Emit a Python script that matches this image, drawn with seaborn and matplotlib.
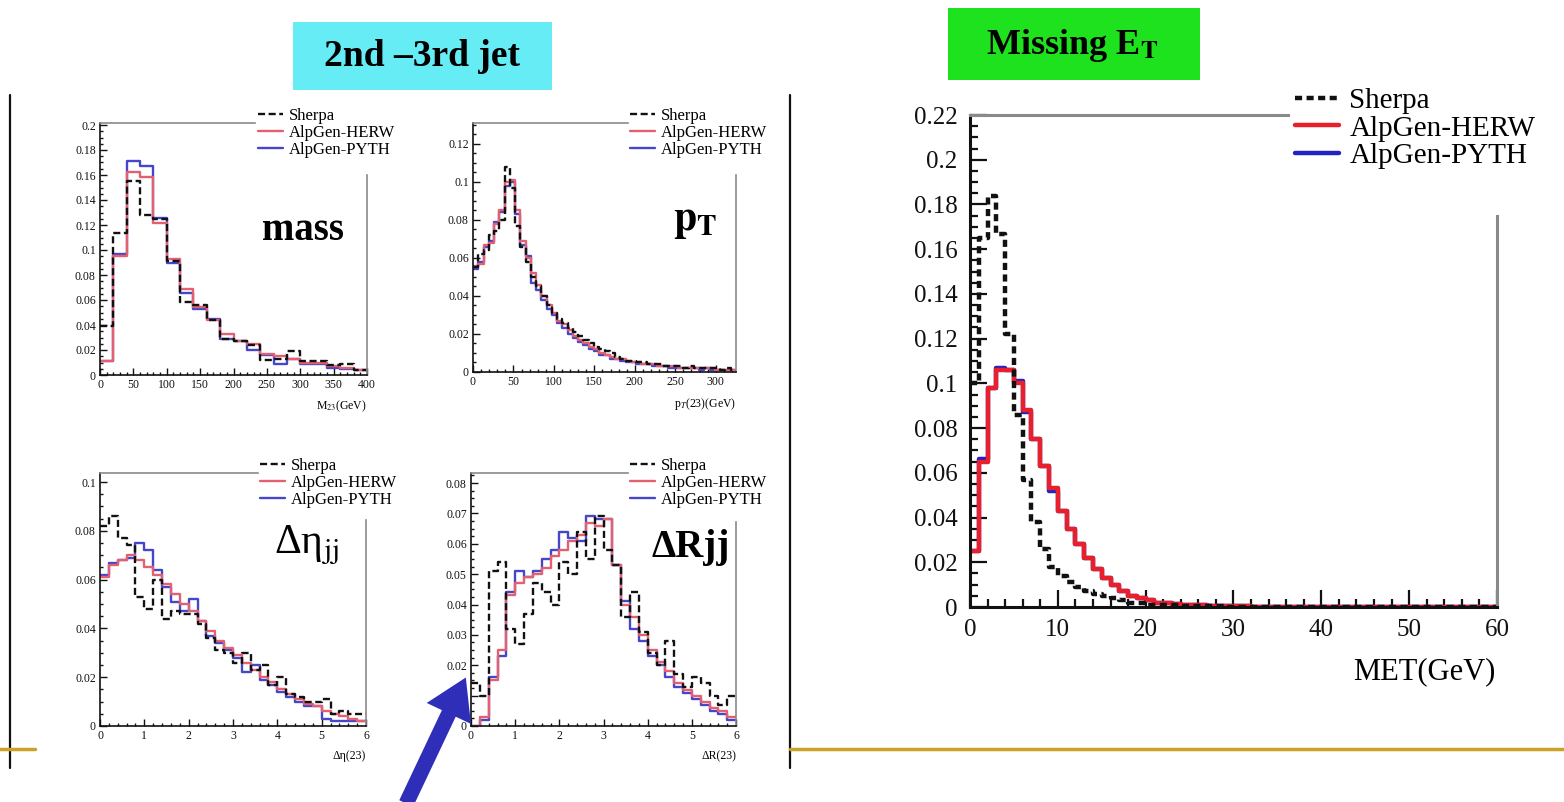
import numpy as np
import pandas as pd
import matplotlib
matplotlib.use("Agg")
import matplotlib.pyplot as plt
from matplotlib.lines import Line2D
from matplotlib.patches import FancyArrowPatch, Rectangle
from matplotlib.ticker import MultipleLocator, FuncFormatter
import seaborn as sns

# ---------------- data ----------------
series_names = ["Sherpa", "AlpGen-HERW", "AlpGen-PYTH"]

# dijet mass (20 GeV bins, 0-400)
mass_edges = np.arange(0, 420, 20)
mass_sherpa = [0.039, 0.114, 0.155, 0.128, 0.125, 0.091, 0.058, 0.056, 0.044, 0.029,
               0.027, 0.024, 0.012, 0.013, 0.019, 0.011, 0.011, 0.008, 0.009, 0.004]
mass_herw = [0.011, 0.095, 0.162, 0.158, 0.122, 0.093, 0.069, 0.054, 0.044, 0.033,
             0.027, 0.025, 0.017, 0.015, 0.013, 0.010, 0.010, 0.007, 0.006, 0.004]
mass_pyth = [0.011, 0.097, 0.171, 0.167, 0.126, 0.090, 0.066, 0.053, 0.045, 0.029,
             0.027, 0.020, 0.016, 0.009, 0.013, 0.009, 0.009, 0.006, 0.005, 0.004]

# dijet pT (6.5 GeV bins, 0-325)
pt_edges = np.linspace(0, 325, 51)
pt_sherpa = [0.055, 0.062, 0.064, 0.072, 0.074, 0.080, 0.108, 0.097, 0.077, 0.066,
             0.058, 0.050, 0.045, 0.040, 0.035, 0.031, 0.028, 0.026, 0.023, 0.021,
             0.019, 0.017, 0.015, 0.013, 0.012, 0.011, 0.010, 0.008, 0.007, 0.006,
             0.006, 0.005, 0.005, 0.004, 0.004, 0.004, 0.003, 0.003, 0.003, 0.003,
             0.002, 0.003, 0.002, 0.002, 0.002, 0.002, 0.002, 0.001, 0.002, 0.001]
pt_herw = [0.056, 0.057, 0.067, 0.068, 0.078, 0.085, 0.100, 0.101, 0.085, 0.069,
           0.060, 0.052, 0.046, 0.040, 0.035, 0.031, 0.027, 0.025, 0.022, 0.019,
           0.017, 0.015, 0.013, 0.012, 0.010, 0.009, 0.008, 0.007, 0.007, 0.006,
           0.005, 0.005, 0.004, 0.004, 0.004, 0.003, 0.003, 0.003, 0.003, 0.002,
           0.002, 0.002, 0.002, 0.002, 0.002, 0.002, 0.001, 0.001, 0.001, 0.001]
pt_pyth = [0.054, 0.058, 0.066, 0.069, 0.079, 0.084, 0.098, 0.100, 0.083, 0.067,
           0.061, 0.047, 0.043, 0.038, 0.033, 0.030, 0.026, 0.023, 0.020, 0.018,
           0.016, 0.014, 0.012, 0.011, 0.009, 0.009, 0.007, 0.007, 0.006, 0.005,
           0.005, 0.004, 0.004, 0.004, 0.003, 0.003, 0.003, 0.002, 0.002, 0.002,
           0.002, 0.002, 0.002, 0.001, 0.002, 0.001, 0.001, 0.001, 0.001, 0.001]

# delta eta (0.2 bins, 0-6)
deta_edges = np.linspace(0, 6, 31)
deta_sherpa = [0.082, 0.086, 0.077, 0.074, 0.053, 0.048, 0.060, 0.044, 0.047, 0.046,
               0.046, 0.042, 0.036, 0.031, 0.030, 0.026, 0.030, 0.023, 0.025, 0.017,
               0.020, 0.013, 0.012, 0.010, 0.010, 0.011, 0.005, 0.006, 0.005, 0.005]
deta_herw = [0.061, 0.066, 0.068, 0.070, 0.068, 0.065, 0.062, 0.058, 0.054, 0.050,
             0.047, 0.043, 0.039, 0.035, 0.032, 0.029, 0.026, 0.023, 0.020, 0.018,
             0.015, 0.013, 0.011, 0.009, 0.008, 0.006, 0.005, 0.004, 0.003, 0.002]
deta_pyth = [0.062, 0.067, 0.068, 0.069, 0.075, 0.072, 0.064, 0.057, 0.051, 0.047,
             0.052, 0.043, 0.037, 0.034, 0.031, 0.028, 0.022, 0.025, 0.019, 0.017,
             0.014, 0.012, 0.010, 0.008, 0.008, 0.003, 0.002, 0.002, 0.002, 0.002]

# delta R (0.2 bins, 0-6)
dr_edges = np.linspace(0, 6, 31)
dr_sherpa = [0.014, 0.010, 0.051, 0.054, 0.032, 0.027, 0.037, 0.047, 0.044, 0.040,
             0.054, 0.050, 0.064, 0.055, 0.069, 0.058, 0.053, 0.036, 0.044, 0.031,
             0.024, 0.020, 0.028, 0.017, 0.013, 0.016, 0.014, 0.010, 0.007, 0.010]
dr_herw = [0.000, 0.003, 0.015, 0.025, 0.043, 0.047, 0.049, 0.050, 0.052, 0.056,
           0.058, 0.061, 0.063, 0.067, 0.066, 0.068, 0.053, 0.040, 0.036, 0.030,
           0.025, 0.021, 0.018, 0.014, 0.012, 0.010, 0.008, 0.006, 0.005, 0.003]
dr_pyth = [0.000, 0.002, 0.016, 0.023, 0.044, 0.051, 0.049, 0.051, 0.055, 0.058,
           0.064, 0.062, 0.061, 0.069, 0.068, 0.068, 0.053, 0.041, 0.032, 0.028,
           0.023, 0.020, 0.016, 0.013, 0.011, 0.009, 0.007, 0.005, 0.004, 0.002]

# missing ET (1 GeV bins, 0-60)
met_edges = np.arange(0, 61, 1)
met_sherpa = [0.100, 0.165, 0.184, 0.167, 0.122, 0.086, 0.057, 0.038, 0.026, 0.018,
              0.014, 0.011, 0.009, 0.007, 0.006, 0.005, 0.004, 0.003, 0.002, 0.002,
              0.001, 0.001, 0.001, 0.0008, 0.0006, 0.0005, 0.0004, 0.0003, 0.0003, 0.0002,
              0.0002, 0.0002, 0.0001, 0.0001, 0.0001, 0.0001, 0.0001, 0.0, 0.0, 0.0,
              0.0, 0.0, 0.0, 0.0, 0.0, 0.0, 0.0, 0.0, 0.0, 0.0,
              0.0, 0.0, 0.0, 0.0, 0.0, 0.0, 0.0, 0.0, 0.0, 0.0]
met_herw = [0.025, 0.065, 0.098, 0.106, 0.106, 0.100, 0.088, 0.075, 0.063, 0.053,
            0.043, 0.035, 0.028, 0.022, 0.017, 0.013, 0.010, 0.007, 0.005, 0.004,
            0.003, 0.002, 0.002, 0.0015, 0.001, 0.001, 0.0008, 0.0006, 0.0005, 0.0004,
            0.0003, 0.0003, 0.0002, 0.0002, 0.0002, 0.0001, 0.0001, 0.0001, 0.0001, 0.0001,
            0.0001, 0.0001, 0.0001, 0.0, 0.0, 0.0, 0.0, 0.0, 0.0, 0.0,
            0.0, 0.0, 0.0, 0.0, 0.0, 0.0, 0.0, 0.0, 0.0, 0.0]
met_pyth = [0.025, 0.066, 0.098, 0.107, 0.106, 0.101, 0.087, 0.075, 0.063, 0.052,
            0.043, 0.035, 0.028, 0.022, 0.017, 0.013, 0.010, 0.007, 0.005, 0.004,
            0.003, 0.002, 0.002, 0.0015, 0.001, 0.001, 0.0008, 0.0006, 0.0005, 0.0004,
            0.0003, 0.0003, 0.0002, 0.0002, 0.0002, 0.0001, 0.0001, 0.0001, 0.0001, 0.0001,
            0.0001, 0.0001, 0.0001, 0.0, 0.0, 0.0, 0.0, 0.0, 0.0, 0.0,
            0.0, 0.0, 0.0, 0.0, 0.0, 0.0, 0.0, 0.0, 0.0, 0.0]

# ---------------- style ----------------
sns.set_style("ticks")
plt.rcParams['font.family'] = ['Liberation Serif', 'DejaVu Serif']
plt.rcParams['mathtext.fontset'] = 'stix'
plt.rcParams['text.color'] = 'black'
plt.rcParams['axes.labelcolor'] = 'black'

W, H = 1564, 802
fig = plt.figure(figsize=(W / 100, H / 100), dpi=100)
fig.patch.set_facecolor("white")


def rect(x0, y0, x1, y1):
    return [x0 / W, 1 - y1 / H, (x1 - x0) / W, (y1 - y0) / H]


def fx(x):
    return x / W


def fy(y):
    return 1 - y / H


fmt = FuncFormatter(lambda v, p: "%g" % round(v, 4))


def step_hist(ax, edges, values, **kws):
    edges = [float(e) for e in edges]
    centers = [0.5 * (a + b) for a, b in zip(edges[:-1], edges[1:])]
    df = pd.DataFrame({"x": centers, "w": [float(v) for v in values]})
    sns.histplot(data=df, x="x", weights="w", bins=edges, element="step",
                 fill=False, ax=ax, **kws)


def panel(box, edges, vals, xlim, ylim, xmaj, xmin, ymaj, ymin, colors, lw,
          dash, tick_fs, tick_len, leg_pos, leg_fs, top_end, right_end, big=False):
    ax = fig.add_axes(rect(*box))
    sherpa, herw, pyth = vals
    step_hist(ax, edges, pyth, color=colors[2], linewidth=lw)
    step_hist(ax, edges, herw, color=colors[1], linewidth=lw)
    step_hist(ax, edges, sherpa, color=colors[0], linewidth=lw, linestyle=(0, dash))
    ax.set_xlabel("")
    ax.set_ylabel("")
    ax.set_xlim(*xlim)
    ax.set_ylim(*ylim)
    ax.xaxis.set_major_locator(MultipleLocator(xmaj))
    ax.xaxis.set_minor_locator(MultipleLocator(xmin))
    ax.yaxis.set_major_locator(MultipleLocator(ymaj))
    ax.yaxis.set_minor_locator(MultipleLocator(ymin))
    ax.xaxis.set_major_formatter(fmt)
    ax.yaxis.set_major_formatter(fmt)
    ax.tick_params(which="both", direction="in", top=False, right=False,
                   colors="#111111", labelcolor="#111111", labelsize=tick_fs,
                   width=1.0 if not big else 1.6)
    ax.tick_params(which="major", length=tick_len, pad=3 if not big else 9)
    ax.tick_params(which="minor", length=tick_len * 0.5)
    for s in ["left", "bottom"]:
        ax.spines[s].set_color("#111111")
        ax.spines[s].set_linewidth(1.2 if not big else 2.2)
    for s in ["top", "right"]:
        ax.spines[s].set_visible(True)
        ax.spines[s].set_color("#8a8a8a")
        ax.spines[s].set_linewidth(1.2 if not big else 2.2)
    ax.spines["top"].set_bounds(xlim[0], top_end)
    ax.spines["right"].set_bounds(ylim[0], right_end)
    handles = [Line2D([], [], color=colors[0], lw=lw, linestyle=(0, dash)),
               Line2D([], [], color=colors[1], lw=lw),
               Line2D([], [], color=colors[2], lw=lw)]
    leg = ax.legend(handles, series_names, loc="upper left",
                    bbox_to_anchor=(fx(leg_pos[0]), fy(leg_pos[1])),
                    bbox_transform=fig.transFigure, frameon=False,
                    fontsize=leg_fs, handlelength=1.5,
                    handletextpad=0.35, borderpad=0.25, labelspacing=0.05,
                    borderaxespad=0.0)
    leg.set_zorder(20)
    return ax


small_cols = ["#111111", "#e2606f", "#4646c8"]
big_cols = ["#111111", "#e8202c", "#2222c4"]

panel((100, 123, 367, 375), mass_edges, (mass_sherpa, mass_herw, mass_pyth),
      (0, 400), (0, 0.2016), 50, 10, 0.02, 0.005, small_cols, 1.7, (3, 1.5),
      8.5, 5, (254, 104), 12, 232, 0.160)
panel((473, 123, 736, 372), pt_edges, (pt_sherpa, pt_herw, pt_pyth),
      (0, 325), (0, 0.131), 50, 10, 0.02, 0.005, small_cols, 1.7, (3, 1.5),
      8.5, 5, (626, 104), 12, 191, 0.1036)
panel((100, 473, 366, 726), deta_edges, (deta_sherpa, deta_herw, deta_pyth),
      (0, 6), (0, 0.1037), 1, 0.2, 0.02, 0.005, small_cols, 1.7, (3, 1.5),
      8.5, 5, (256, 454), 12, 3.56, 0.0844)
panel((471, 473, 736, 726), dr_edges, (dr_sherpa, dr_herw, dr_pyth),
      (0, 6), (0, 0.0833), 1, 0.2, 0.01, 0.0025, small_cols, 1.7, (3, 1.5),
      8.5, 5, (626, 454), 12, 3.55, 0.0672)
panel((970, 115, 1497, 607), met_edges, (met_sherpa, met_herw, met_pyth),
      (0, 60), (0, 0.22), 10, 2, 0.02, 0.005, big_cols, 3.2, (1.6, 1.0),
      18, 12, (1288, 80), 21, 36.2, 0.175, big=True)

# panel annotations
fig.text(fx(303), fy(230), "mass", ha="center", va="center", fontsize=28,
         fontweight="bold")
fig.text(fx(695), fy(222), r"$\mathbf{p}_\mathbf{T}$", ha="center", va="center",
         fontsize=30)
fig.text(fx(306), fy(545), r"Δη$_{\mathrm{jj}}$", ha="center", va="center",
         fontsize=30)
fig.text(fx(691), fy(548), "ΔRjj", ha="center", va="center", fontsize=28,
         fontweight="bold")

# axis titles
fig.text(fx(367), fy(406), r"M$_{23}$(GeV)", ha="right", va="center", fontsize=8.5)
fig.text(fx(736), fy(404), r"p$_{T}$(23)(GeV)", ha="right", va="center", fontsize=8.5)
fig.text(fx(366), fy(756), "Δη(23)", ha="right", va="center", fontsize=8.5)
fig.text(fx(736), fy(756), "ΔR(23)", ha="right", va="center", fontsize=8.5)
fig.text(fx(1495), fy(672), "MET(GeV)", ha="right", va="center", fontsize=22)

# title boxes
fig.add_artist(Rectangle((fx(293), fy(90)), (552 - 293) / W, (90 - 22) / H,
                         transform=fig.transFigure, facecolor="#66ecf5",
                         edgecolor="none", zorder=1))
fig.text(fx(422), fy(56), "2nd –3rd jet", ha="center", va="center", fontsize=27,
         fontweight="bold", zorder=2)
fig.add_artist(Rectangle((fx(948), fy(80)), (1200 - 948) / W, (80 - 8) / H,
                         transform=fig.transFigure, facecolor="#1ee21e",
                         edgecolor="none", zorder=1))
fig.text(fx(1072), fy(45), r"Missing E$_{\mathbf{T}}$", ha="center", va="center",
         fontsize=26, fontweight="bold", zorder=2)

# slide decorations
for xv in (10, 790):
    fig.add_artist(Line2D([fx(xv), fx(xv)], [fy(95), fy(768)], color="#111111",
                          lw=1.6, transform=fig.transFigure))
fig.add_artist(Line2D([fx(0), fx(35)], [fy(749), fy(749)], color="#c9a227",
                      lw=2.5, transform=fig.transFigure))
fig.add_artist(Line2D([fx(790), fx(1564)], [fy(749), fy(749)], color="#c9a227",
                      lw=2.5, transform=fig.transFigure))
fig.add_artist(FancyArrowPatch((fx(405), fy(806)), (fx(467), fy(675)),
                               transform=fig.transFigure,
                               arrowstyle="simple,head_length=1.3,head_width=1.6,tail_width=0.5",
                               mutation_scale=22, color="#2e2eb8", lw=0))

fig.savefig("out.png", dpi=100, facecolor="white")
